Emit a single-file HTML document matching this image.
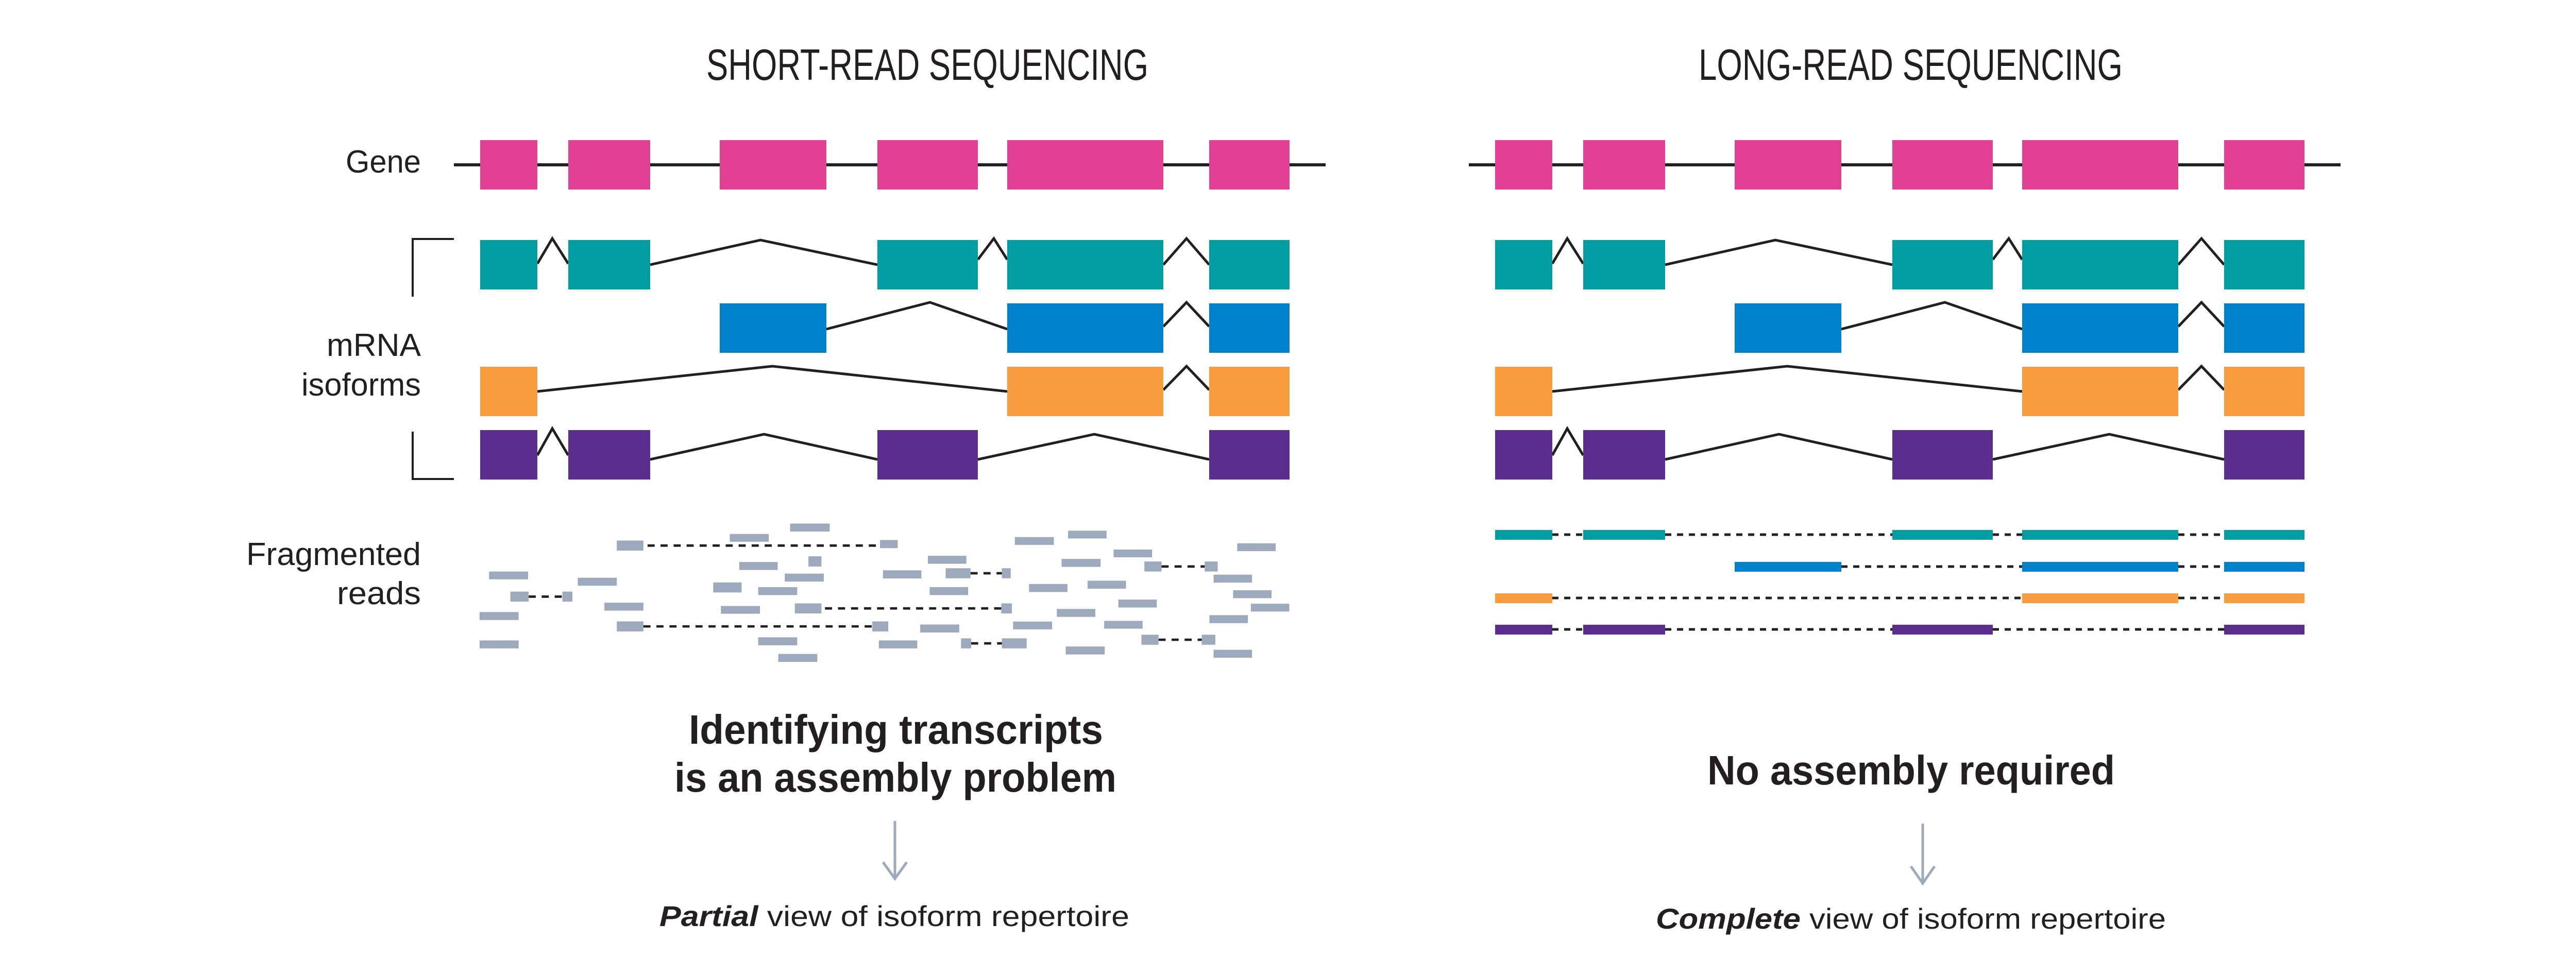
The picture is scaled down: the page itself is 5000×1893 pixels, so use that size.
<!DOCTYPE html>
<html><head><meta charset="utf-8"><style>
html,body{margin:0;padding:0;background:#fff;}
svg{display:block;}
text{font-family:"Liberation Sans",sans-serif;fill:#231f20;}
</style></head><body>
<svg width="5000" height="1893" viewBox="0 0 5000 1893" xmlns="http://www.w3.org/2000/svg">
<rect width="5000" height="1893" fill="#fff"/>
<text x="1371" y="155" font-size="85" textLength="858" lengthAdjust="spacingAndGlyphs">SHORT-READ SEQUENCING</text>
<text x="3297" y="155" font-size="85" textLength="823" lengthAdjust="spacingAndGlyphs">LONG-READ SEQUENCING</text>
<text x="817" y="335" font-size="62" text-anchor="end" textLength="146" lengthAdjust="spacingAndGlyphs">Gene</text>
<text x="817" y="691" font-size="62" text-anchor="end" textLength="183" lengthAdjust="spacingAndGlyphs">mRNA</text>
<text x="817" y="768" font-size="62" text-anchor="end" textLength="232" lengthAdjust="spacingAndGlyphs">isoforms</text>
<text x="817" y="1097" font-size="62" text-anchor="end" textLength="339" lengthAdjust="spacingAndGlyphs">Fragmented</text>
<text x="817" y="1173" font-size="62" text-anchor="end" textLength="163" lengthAdjust="spacingAndGlyphs">reads</text>
<polyline points="881,464 801,464 801,576" fill="none" stroke="#231f20" stroke-width="4"/>
<polyline points="801,838 801,930 881,930" fill="none" stroke="#231f20" stroke-width="4"/>

<g id="iso">
<line x1="881" y1="320" x2="2573" y2="320" stroke="#231f20" stroke-width="6"/>
<g fill="#e14095">
<rect x="932" y="272" width="111" height="96"/><rect x="1103" y="272" width="159" height="96"/><rect x="1397" y="272" width="207" height="96"/><rect x="1703" y="272" width="195" height="96"/><rect x="1955" y="272" width="303" height="96"/><rect x="2347" y="272" width="156" height="96"/>
</g>
<g fill="none" stroke="#231f20" stroke-width="5">
<polyline points="1043,512 1072,463 1103,512"/><polyline points="1262,514 1476,466 1703,514"/><polyline points="1898,504 1929,463 1955,504"/><polyline points="2258,514 2303,463 2347,514"/>
<polyline points="1604,639 1805,587 1955,639"/><polyline points="2258,634 2303,587 2347,634"/>
<polyline points="1043,760 1499,711 1955,760"/><polyline points="2258,757 2303,711 2347,757"/>
<polyline points="1043,884 1072,832 1103,884"/><polyline points="1262,892 1483,843 1703,892"/><polyline points="1898,892 2124,843 2347,892"/>
</g>
<g fill="#029ca3"><rect x="932" y="466" width="111" height="96"/><rect x="1103" y="466" width="159" height="96"/><rect x="1703" y="466" width="195" height="96"/><rect x="1955" y="466" width="303" height="96"/><rect x="2347" y="466" width="156" height="96"/></g>
<g fill="#0081cb"><rect x="1397" y="589" width="207" height="96"/><rect x="1955" y="589" width="303" height="96"/><rect x="2347" y="589" width="156" height="96"/></g>
<g fill="#f79d40"><rect x="932" y="712" width="111" height="96"/><rect x="1955" y="712" width="303" height="96"/><rect x="2347" y="712" width="156" height="96"/></g>
<g fill="#5a2d8e"><rect x="932" y="835" width="111" height="96"/><rect x="1103" y="835" width="159" height="96"/><rect x="1703" y="835" width="195" height="96"/><rect x="2347" y="835" width="156" height="96"/></g>
</g>
<use href="#iso" transform="translate(1970,0)"/>

<g transform="translate(800,950) scale(1.148,0.3361)">
<g stroke="#231f20" stroke-width="14" stroke-dasharray="12 10">
<line x1="398" y1="325" x2="791" y2="325"/><line x1="1267" y1="446" x2="1340" y2="446"/><line x1="944" y1="485" x2="997" y2="485"/>
<line x1="197" y1="620" x2="254" y2="620"/><line x1="698" y1="688" x2="996" y2="688"/><line x1="391" y1="792" x2="778" y2="792"/>
<line x1="945" y1="890" x2="997" y2="890"/><line x1="1262" y1="869" x2="1335" y2="869"/>
</g>
<g fill="#9daabd">
<rect x="639" y="198" width="67" height="46"/><rect x="537" y="258" width="66" height="45"/><rect x="346" y="296" width="45" height="58"/><rect x="791" y="293" width="30" height="47"/>
<rect x="1019" y="276" width="66" height="45"/><rect x="1109" y="239" width="65" height="45"/><rect x="1395" y="312" width="65" height="45"/>
<rect x="553" y="420" width="65" height="46"/><rect x="670" y="387" width="22" height="59"/><rect x="872" y="384" width="65" height="46"/>
<rect x="1186" y="348" width="65" height="45"/><rect x="1098" y="402" width="66" height="46"/><rect x="1238" y="417" width="29" height="58"/><rect x="1340" y="417" width="22" height="58"/>
<rect x="902" y="456" width="42" height="58"/><rect x="997" y="456" width="15" height="58"/><rect x="796" y="468" width="65" height="47"/>
<rect x="630" y="487" width="66" height="46"/><rect x="130" y="475" width="66" height="45"/><rect x="280" y="511" width="66" height="46"/>
<rect x="1355" y="493" width="65" height="46"/><rect x="509" y="538" width="48" height="58"/><rect x="585" y="565" width="66" height="46"/>
<rect x="875" y="565" width="65" height="46"/><rect x="1043" y="547" width="65" height="46"/><rect x="1142" y="528" width="65" height="46"/>
<rect x="1388" y="583" width="65" height="46"/><rect x="166" y="591" width="31" height="58"/><rect x="254" y="591" width="17" height="58"/>
<rect x="325" y="655" width="66" height="46"/><rect x="522" y="674" width="66" height="45"/><rect x="647" y="659" width="45" height="58"/><rect x="996" y="659" width="18" height="58"/>
<rect x="1194" y="637" width="65" height="46"/><rect x="1418" y="661" width="65" height="45"/><rect x="114" y="709" width="66" height="46"/>
<rect x="1090" y="691" width="65" height="46"/><rect x="1348" y="727" width="65" height="46"/><rect x="346" y="763" width="45" height="58"/><rect x="778" y="763" width="27" height="58"/>
<rect x="859" y="781" width="66" height="46"/><rect x="1016" y="764" width="66" height="45"/><rect x="1170" y="760" width="65" height="45"/>
<rect x="114" y="873" width="66" height="46"/><rect x="585" y="855" width="66" height="46"/><rect x="789" y="873" width="65" height="46"/>
<rect x="928" y="861" width="17" height="58"/><rect x="997" y="861" width="42" height="58"/><rect x="1233" y="840" width="29" height="58"/><rect x="1335" y="840" width="23" height="58"/>
<rect x="1105" y="908" width="66" height="46"/><rect x="1355" y="927" width="65" height="46"/><rect x="619" y="951" width="66" height="46"/>
</g>
</g>

<g transform="translate(0,-12)">
<g stroke="#231f20" stroke-width="5" stroke-dasharray="12 11">
<line x1="3013" y1="1050" x2="3073" y2="1050"/><line x1="3232" y1="1050" x2="3673" y2="1050"/><line x1="3868" y1="1050" x2="3925" y2="1050"/><line x1="4228" y1="1050" x2="4317" y2="1050"/>
<line x1="3574" y1="1112" x2="3925" y2="1112"/><line x1="4228" y1="1112" x2="4317" y2="1112"/>
<line x1="3013" y1="1173" x2="3925" y2="1173"/><line x1="4228" y1="1173" x2="4317" y2="1173"/>
<line x1="3013" y1="1234" x2="3073" y2="1234"/><line x1="3232" y1="1234" x2="3673" y2="1234"/><line x1="3868" y1="1234" x2="4317" y2="1234"/>
</g>
<g fill="#029ca3"><rect x="2902" y="1041" width="111" height="19"/><rect x="3073" y="1041" width="159" height="19"/><rect x="3673" y="1041" width="195" height="19"/><rect x="3925" y="1041" width="303" height="19"/><rect x="4317" y="1041" width="156" height="19"/></g>
<g fill="#0081cb"><rect x="3367" y="1103" width="207" height="19"/><rect x="3925" y="1103" width="303" height="19"/><rect x="4317" y="1103" width="156" height="19"/></g>
<g fill="#f79d40"><rect x="2902" y="1164" width="111" height="19"/><rect x="3925" y="1164" width="303" height="19"/><rect x="4317" y="1164" width="156" height="19"/></g>
<g fill="#5a2d8e"><rect x="2902" y="1225" width="111" height="19"/><rect x="3073" y="1225" width="159" height="19"/><rect x="3673" y="1225" width="195" height="19"/><rect x="4317" y="1225" width="156" height="19"/></g>
</g>

<text x="1337" y="1444" font-size="80" font-weight="bold" textLength="804" lengthAdjust="spacingAndGlyphs">Identifying transcripts</text>
<text x="1309" y="1537" font-size="80" font-weight="bold" textLength="858" lengthAdjust="spacingAndGlyphs">is an assembly problem</text>
<text x="3314" y="1523" font-size="80" font-weight="bold" textLength="791" lengthAdjust="spacingAndGlyphs">No assembly required</text>
<g stroke="#9daabd" stroke-width="5" fill="none">
<line x1="1737" y1="1594" x2="1737" y2="1704"/><polyline points="1714,1674 1737,1706 1760,1674"/>
<line x1="3732" y1="1599" x2="3732" y2="1713"/><polyline points="3709,1682 3732,1715 3755,1682"/>
</g>
<text x="1280" y="1798" font-size="56" textLength="912" lengthAdjust="spacingAndGlyphs"><tspan font-weight="bold" font-style="italic">Partial</tspan> view of isoform repertoire</text>
<text x="3214" y="1803" font-size="56" textLength="990" lengthAdjust="spacingAndGlyphs"><tspan font-weight="bold" font-style="italic">Complete</tspan> view of isoform repertoire</text>
</svg>
</body></html>
